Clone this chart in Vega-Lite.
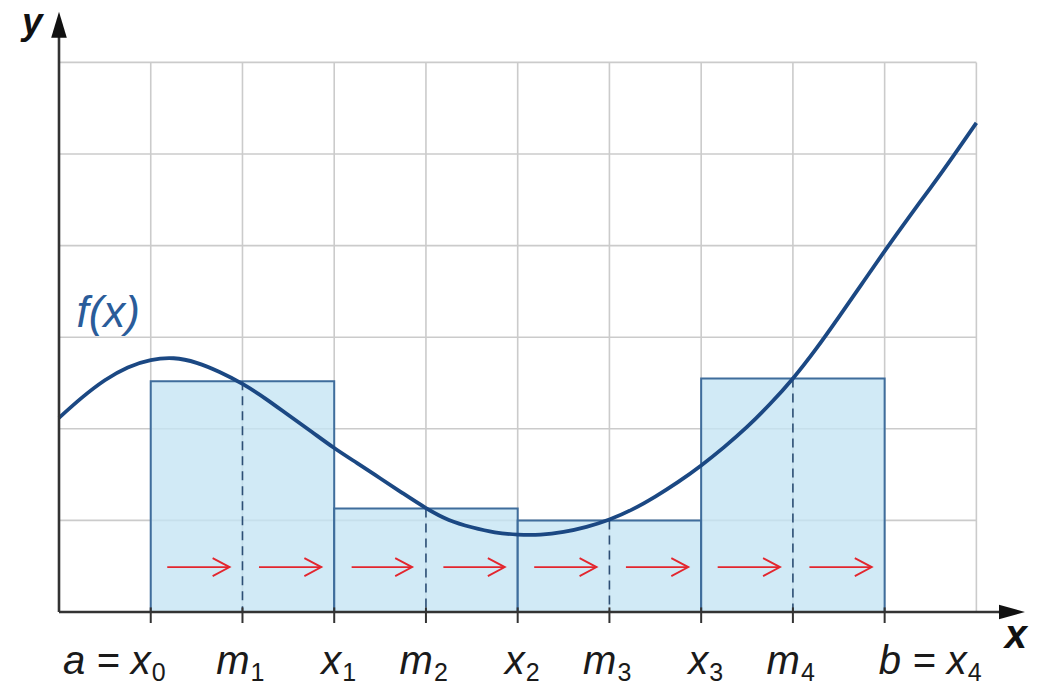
{
  "$schema": "https://vega.github.io/schema/vega-lite/v6.json",
  "autosize": {"type": "none"},
  "width": 966,
  "height": 600,
  "padding": {"left": 59, "top": 12, "right": 23, "bottom": 75},
  "background": "white",
  "config": {"view": {"stroke": null}},
  "datasets": {
    "gridv": [{"x": 1}, {"x": 2}, {"x": 3}, {"x": 4}, {"x": 5}, {"x": 6}, {"x": 7}, {"x": 8}, {"x": 9}, {"x": 10}],
    "gridh": [{"y": 1}, {"y": 2}, {"y": 3}, {"y": 4}, {"y": 5}, {"y": 6}],
    "rects": [
      {"x": 1, "x2": 3, "m": 2, "h": 2.52},
      {"x": 3, "x2": 5, "m": 4, "h": 1.13},
      {"x": 5, "x2": 7, "m": 6, "h": 1.0},
      {"x": 7, "x2": 9, "m": 8, "h": 2.55}
    ],
    "arrows": [
      {"xs": 1.18, "xe": 1.86}, {"xs": 2.18, "xe": 2.86}, {"xs": 3.19, "xe": 3.85}, {"xs": 4.19, "xe": 4.86},
      {"xs": 5.18, "xe": 5.86}, {"xs": 6.18, "xe": 6.86}, {"xs": 7.18, "xe": 7.86}, {"xs": 8.18, "xe": 8.86}
    ],
    "curve": [
      {"x": 0.0, "y": 2.12}, {"x": 0.25, "y": 2.34}, {"x": 0.5, "y": 2.53}, {"x": 0.75, "y": 2.67},
      {"x": 1.0, "y": 2.75}, {"x": 1.25, "y": 2.77}, {"x": 1.5, "y": 2.72}, {"x": 1.75, "y": 2.62},
      {"x": 2.0, "y": 2.49}, {"x": 2.25, "y": 2.33}, {"x": 2.5, "y": 2.15}, {"x": 2.75, "y": 1.97},
      {"x": 3.0, "y": 1.79}, {"x": 3.25, "y": 1.625}, {"x": 3.5, "y": 1.46}, {"x": 3.75, "y": 1.295},
      {"x": 4.0, "y": 1.135}, {"x": 4.25, "y": 1.005}, {"x": 4.5, "y": 0.925}, {"x": 4.75, "y": 0.87},
      {"x": 5.0, "y": 0.845}, {"x": 5.25, "y": 0.845}, {"x": 5.5, "y": 0.875}, {"x": 5.75, "y": 0.93},
      {"x": 6.0, "y": 1.01}, {"x": 6.25, "y": 1.12}, {"x": 6.5, "y": 1.26}, {"x": 6.75, "y": 1.42},
      {"x": 7.0, "y": 1.6}, {"x": 7.25, "y": 1.8}, {"x": 7.5, "y": 2.02}, {"x": 7.75, "y": 2.27},
      {"x": 8.0, "y": 2.55}, {"x": 8.25, "y": 2.87}, {"x": 8.5, "y": 3.22}, {"x": 8.75, "y": 3.58},
      {"x": 9.0, "y": 3.94}, {"x": 9.25, "y": 4.29}, {"x": 9.5, "y": 4.63}, {"x": 9.75, "y": 4.98},
      {"x": 10.0, "y": 5.34}
    ],
    "ticks": [{"x": 1}, {"x": 2}, {"x": 3}, {"x": 4}, {"x": 5}, {"x": 6}, {"x": 7}, {"x": 8}, {"x": 9}],
    "labels": [
      {"x": 1, "main": "a = x", "sub": "0", "kind": "first"},
      {"x": 2, "main": "m", "sub": "1", "kind": "mid"},
      {"x": 3, "main": "x", "sub": "1", "kind": "mid"},
      {"x": 4, "main": "m", "sub": "2", "kind": "mid"},
      {"x": 5, "main": "x", "sub": "2", "kind": "mid"},
      {"x": 6, "main": "m", "sub": "3", "kind": "mid"},
      {"x": 7, "main": "x", "sub": "3", "kind": "mid"},
      {"x": 8, "main": "m", "sub": "4", "kind": "mid"},
      {"x": 9, "main": "b = x", "sub": "4", "kind": "last"}
    ]
  },
  "layer": [
    {
      "data": {"name": "gridv"},
      "mark": {"type": "rule", "color": "#cbcbcb", "strokeWidth": 1.6},
      "encoding": {
        "x": {"field": "x", "type": "quantitative", "scale": {"domain": [0, 10.53], "nice": false, "zero": false}, "axis": null},
        "y": {"datum": 0, "type": "quantitative", "scale": {"domain": [0, 6.55], "nice": false, "zero": false}, "axis": null},
        "y2": {"datum": 6}
      }
    },
    {
      "data": {"name": "gridh"},
      "mark": {"type": "rule", "color": "#cbcbcb", "strokeWidth": 1.6},
      "encoding": {
        "y": {"field": "y", "type": "quantitative", "axis": null},
        "x": {"datum": 0, "type": "quantitative", "axis": null},
        "x2": {"datum": 10}
      }
    },
    {
      "data": {"name": "rects"},
      "mark": {"type": "rect", "fill": "#c4e4f4", "fillOpacity": 0.78, "stroke": "#3f6d9c", "strokeWidth": 2},
      "encoding": {
        "x": {"field": "x", "type": "quantitative", "axis": null},
        "x2": {"field": "x2"},
        "y": {"field": "h", "type": "quantitative", "axis": null},
        "y2": {"datum": 0}
      }
    },
    {
      "data": {"name": "rects"},
      "mark": {"type": "rule", "color": "#2d4f75", "strokeWidth": 1.6, "strokeDash": [9, 6]},
      "encoding": {
        "x": {"field": "m", "type": "quantitative", "axis": null},
        "y": {"field": "h", "type": "quantitative", "axis": null},
        "y2": {"datum": 0}
      }
    },
    {
      "data": {"name": "arrows"},
      "mark": {"type": "rule", "color": "#e3262e", "strokeWidth": 1.8},
      "encoding": {
        "x": {"field": "xs", "type": "quantitative", "axis": null},
        "x2": {"field": "xe"},
        "y": {"datum": 0.49, "type": "quantitative", "axis": null}
      }
    },
    {
      "data": {"name": "arrows"},
      "mark": {"type": "point", "shape": "M-1,-0.53L0,0L-1,0.53", "size": 1156, "filled": false, "stroke": "#e3262e", "strokeWidth": 1.8, "opacity": 1},
      "encoding": {
        "x": {"field": "xe", "type": "quantitative", "axis": null},
        "y": {"datum": 0.49, "type": "quantitative", "axis": null}
      }
    },
    {
      "data": {"name": "curve"},
      "mark": {"type": "line", "color": "#1b4883", "strokeWidth": 3.8, "interpolate": "natural"},
      "encoding": {
        "x": {"field": "x", "type": "quantitative", "axis": null},
        "y": {"field": "y", "type": "quantitative", "axis": null}
      }
    },
    {
      "data": {"values": [{}]},
      "mark": {"type": "rule", "color": "#333333", "strokeWidth": 2.6},
      "encoding": {
        "x": {"datum": 0, "type": "quantitative", "axis": null},
        "x2": {"datum": 10.39},
        "y": {"datum": 0, "type": "quantitative", "axis": null}
      }
    },
    {
      "data": {"values": [{}]},
      "mark": {"type": "rule", "color": "#333333", "strokeWidth": 2.6},
      "encoding": {
        "x": {"datum": 0, "type": "quantitative", "axis": null},
        "y": {"datum": 0, "type": "quantitative", "axis": null},
        "y2": {"datum": 6.41}
      }
    },
    {
      "data": {"values": [{}]},
      "mark": {"type": "point", "shape": "M-1,-0.55L1,0L-1,0.55Z", "size": 676, "filled": true, "color": "#111111", "opacity": 1},
      "encoding": {
        "x": {"datum": 10.388, "type": "quantitative", "axis": null},
        "y": {"datum": 0, "type": "quantitative", "axis": null}
      }
    },
    {
      "data": {"values": [{}]},
      "mark": {"type": "point", "shape": "M-0.6,1L0,-1L0.6,1Z", "size": 676, "filled": true, "color": "#111111", "opacity": 1},
      "encoding": {
        "x": {"datum": 0, "type": "quantitative", "axis": null},
        "y": {"datum": 6.41, "type": "quantitative", "axis": null}
      }
    },
    {
      "data": {"name": "ticks"},
      "mark": {"type": "rule", "color": "#333333", "strokeWidth": 2},
      "encoding": {
        "x": {"field": "x", "type": "quantitative", "axis": null},
        "y": {"datum": 0.05, "type": "quantitative", "axis": null},
        "y2": {"datum": -0.12}
      }
    },
    {
      "data": {"name": "labels"},
      "transform": [{"filter": "datum.kind == 'mid'"}],
      "mark": {"type": "text", "font": "Liberation Sans", "fontStyle": "italic", "fontSize": 40, "align": "right", "baseline": "alphabetic", "dx": 7, "color": "#1a1a1a"},
      "encoding": {
        "x": {"field": "x", "type": "quantitative", "axis": null},
        "y": {"datum": -0.677, "type": "quantitative", "axis": null},
        "text": {"field": "main"}
      }
    },
    {
      "data": {"name": "labels"},
      "transform": [{"filter": "datum.kind == 'mid'"}],
      "mark": {"type": "text", "font": "Liberation Sans", "fontSize": 25, "align": "left", "baseline": "alphabetic", "dx": 8, "color": "#1a1a1a"},
      "encoding": {
        "x": {"field": "x", "type": "quantitative", "axis": null},
        "y": {"datum": -0.753, "type": "quantitative", "axis": null},
        "text": {"field": "sub"}
      }
    },
    {
      "data": {"name": "labels"},
      "transform": [{"filter": "datum.kind == 'first'"}],
      "mark": {"type": "text", "font": "Liberation Sans", "fontStyle": "italic", "fontSize": 40, "align": "right", "baseline": "alphabetic", "dx": 0, "color": "#1a1a1a"},
      "encoding": {
        "x": {"field": "x", "type": "quantitative", "axis": null},
        "y": {"datum": -0.677, "type": "quantitative", "axis": null},
        "text": {"field": "main"}
      }
    },
    {
      "data": {"name": "labels"},
      "transform": [{"filter": "datum.kind == 'first'"}],
      "mark": {"type": "text", "font": "Liberation Sans", "fontSize": 25, "align": "left", "baseline": "alphabetic", "dx": 1, "color": "#1a1a1a"},
      "encoding": {
        "x": {"field": "x", "type": "quantitative", "axis": null},
        "y": {"datum": -0.753, "type": "quantitative", "axis": null},
        "text": {"field": "sub"}
      }
    },
    {
      "data": {"name": "labels"},
      "transform": [{"filter": "datum.kind == 'last'"}],
      "mark": {"type": "text", "font": "Liberation Sans", "fontStyle": "italic", "fontSize": 40, "align": "right", "baseline": "alphabetic", "dx": 82, "color": "#1a1a1a"},
      "encoding": {
        "x": {"field": "x", "type": "quantitative", "axis": null},
        "y": {"datum": -0.677, "type": "quantitative", "axis": null},
        "text": {"field": "main"}
      }
    },
    {
      "data": {"name": "labels"},
      "transform": [{"filter": "datum.kind == 'last'"}],
      "mark": {"type": "text", "font": "Liberation Sans", "fontSize": 25, "align": "left", "baseline": "alphabetic", "dx": 83, "color": "#1a1a1a"},
      "encoding": {
        "x": {"field": "x", "type": "quantitative", "axis": null},
        "y": {"datum": -0.753, "type": "quantitative", "axis": null},
        "text": {"field": "sub"}
      }
    },
    {
      "data": {"values": [{"t": "x"}]},
      "mark": {"type": "text", "font": "Liberation Sans", "fontStyle": "italic", "fontWeight": "bold", "fontSize": 40, "align": "center", "baseline": "alphabetic", "color": "#111111"},
      "encoding": {
        "x": {"datum": 10.43, "type": "quantitative", "axis": null},
        "y": {"datum": -0.39, "type": "quantitative", "axis": null},
        "text": {"field": "t"}
      }
    },
    {
      "data": {"values": [{"t": "y"}]},
      "mark": {"type": "text", "font": "Liberation Sans", "fontStyle": "italic", "fontWeight": "bold", "fontSize": 37, "align": "center", "baseline": "alphabetic", "color": "#111111"},
      "encoding": {
        "x": {"datum": -0.29, "type": "quantitative", "axis": null},
        "y": {"datum": 6.31, "type": "quantitative", "axis": null},
        "text": {"field": "t"}
      }
    },
    {
      "data": {"values": [{"t": "f(x)"}]},
      "mark": {"type": "text", "font": "Liberation Sans", "fontStyle": "italic", "fontSize": 44, "align": "left", "baseline": "alphabetic", "color": "#2a5c9a"},
      "encoding": {
        "x": {"datum": 0.19, "type": "quantitative", "axis": null},
        "y": {"datum": 3.11, "type": "quantitative", "axis": null},
        "text": {"field": "t"}
      }
    }
  ]
}
